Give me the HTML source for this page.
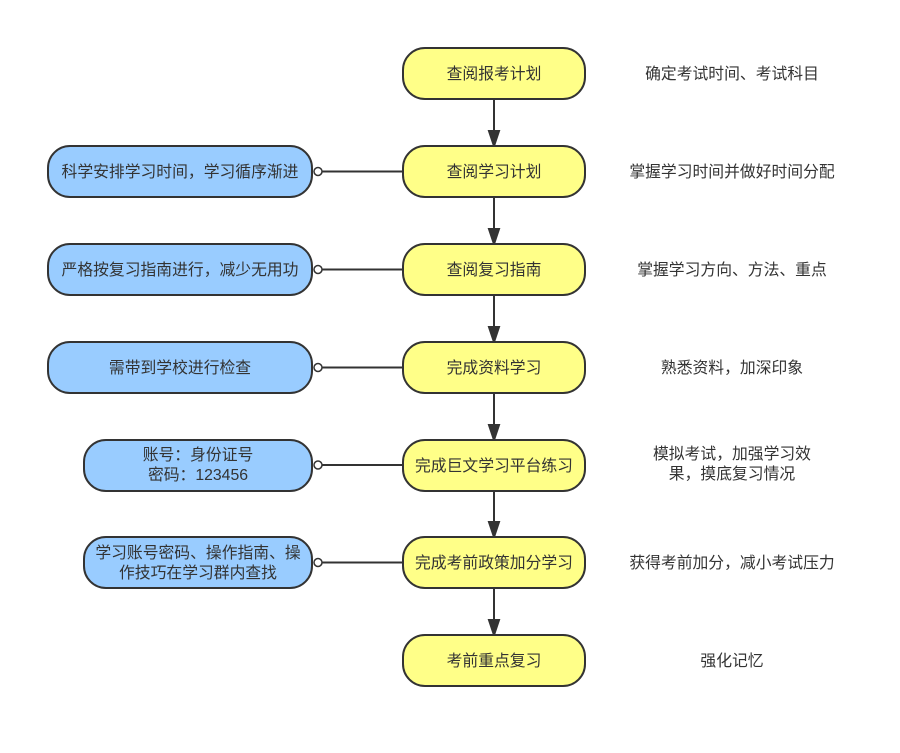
<!DOCTYPE html>
<html><head><meta charset="utf-8"><style>
html,body{margin:0;padding:0;background:#fff;}
text{font-family:"Liberation Sans","Noto Sans CJK SC",sans-serif;font-size:15.8px;fill:#333;}
</style></head><body>
<svg width="900" height="748" xmlns="http://www.w3.org/2000/svg">
<g stroke="#333" stroke-width="2" fill="none">
<line x1="494" y1="99" x2="494" y2="146"/><path d="M489,131 L494,146 L499,131 Z" fill="#333"/>
<line x1="494" y1="197" x2="494" y2="244"/><path d="M489,229 L494,244 L499,229 Z" fill="#333"/>
<line x1="494" y1="295" x2="494" y2="342"/><path d="M489,327 L494,342 L499,327 Z" fill="#333"/>
<line x1="494" y1="393" x2="494" y2="440"/><path d="M489,425 L494,440 L499,425 Z" fill="#333"/>
<line x1="494" y1="491" x2="494" y2="537"/><path d="M489,522 L494,537 L499,522 Z" fill="#333"/>
<line x1="494" y1="588" x2="494" y2="635"/><path d="M489,620 L494,635 L499,620 Z" fill="#333"/>
<line x1="322" y1="171.5" x2="403" y2="171.5"/>
<line x1="322" y1="269.5" x2="403" y2="269.5"/>
<line x1="322" y1="367.5" x2="403" y2="367.5"/>
<line x1="322" y1="465" x2="403" y2="465"/>
<line x1="322" y1="562.5" x2="403" y2="562.5"/>
</g>
<g stroke="#333" stroke-width="2" fill="#ffff88">
<rect x="403" y="48" width="182" height="51" rx="22"/>
<rect x="403" y="146" width="182" height="51" rx="22"/>
<rect x="403" y="244" width="182" height="51" rx="22"/>
<rect x="403" y="342" width="182" height="51" rx="22"/>
<rect x="403" y="440" width="182" height="51" rx="22"/>
<rect x="403" y="537" width="182" height="51" rx="22"/>
<rect x="403" y="635" width="182" height="51" rx="22"/>
</g>
<g stroke="#333" stroke-width="2" fill="#99ccff">
<rect x="48" y="146" width="264" height="51" rx="22"/>
<rect x="48" y="244" width="264" height="51" rx="22"/>
<rect x="48" y="342" width="264" height="51" rx="22"/>
<rect x="84" y="440" width="228" height="51" rx="22"/>
<rect x="84" y="537" width="228" height="51" rx="22"/>
</g>
<g stroke="#333" stroke-width="1.5" fill="#fff">
<circle cx="318" cy="171.5" r="4"/><circle cx="318" cy="269.5" r="4"/><circle cx="318" cy="367.5" r="4"/><circle cx="318" cy="465" r="4"/><circle cx="318" cy="562.5" r="4"/>
</g>
<g text-anchor="middle">
<text x="494" y="79">查阅报考计划</text>
<text x="494" y="177">查阅学习计划</text>
<text x="494" y="275">查阅复习指南</text>
<text x="494" y="373">完成资料学习</text>
<text x="494" y="471">完成巨文学习平台练习</text>
<text x="494" y="568">完成考前政策加分学习</text>
<text x="494" y="666">考前重点复习</text>
<text x="180" y="177">科学安排学习时间，学习循序渐进</text>
<text x="180" y="275">严格按复习指南进行，减少无用功</text>
<text x="180" y="373">需带到学校进行检查</text>
<text x="198" y="460">账号：身份证号</text>
<text x="198" y="480">密码：123456</text>
<text x="198" y="558">学习账号密码、操作指南、操</text>
<text x="198" y="578">作技巧在学习群内查找</text>
<text x="732" y="79">确定考试时间、考试科目</text>
<text x="732" y="177">掌握学习时间并做好时间分配</text>
<text x="732" y="275">掌握学习方向、方法、重点</text>
<text x="732" y="373">熟悉资料，加深印象</text>
<text x="732" y="459">模拟考试，加强学习效</text>
<text x="732" y="479">果，摸底复习情况</text>
<text x="732" y="568">获得考前加分，减小考试压力</text>
<text x="732" y="666">强化记忆</text>
</g>
</svg>
</body></html>
